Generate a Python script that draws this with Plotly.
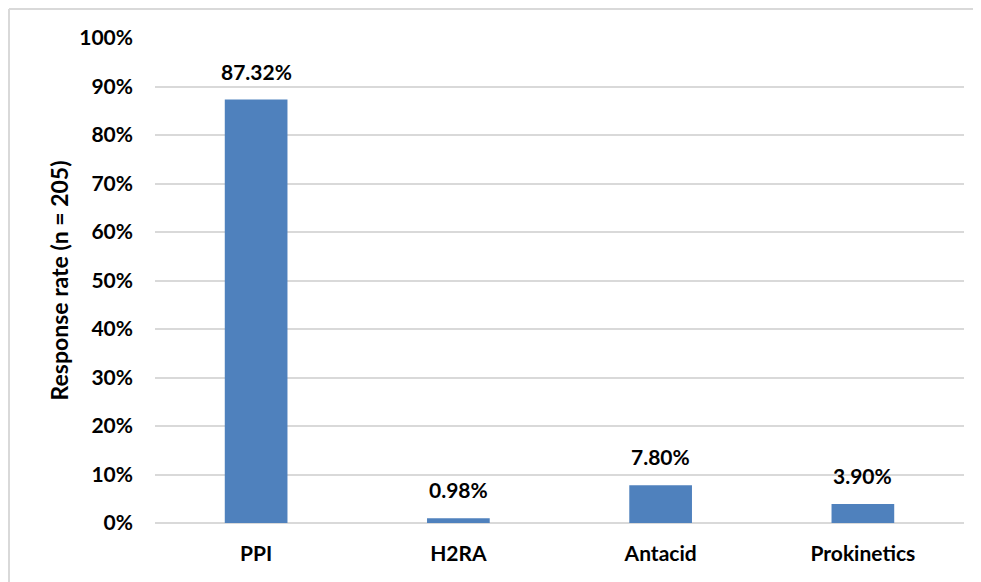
import plotly.graph_objects as go

categories = ["PPI", "H2RA", "Antacid", "Prokinetics"]
values = [87.32, 0.98, 7.80, 3.90]
labels = ["87.32%", "0.98%", "7.80%", "3.90%"]
y_ticks = [0, 10, 20, 30, 40, 50, 60, 70, 80, 90, 100]
y_title = "Response rate (n = 205)"

FONT = "Lato"
W, H = 973, 574
L, R, T, B = 147, 17, 30, 59
pw, ph = W - L - R, H - T - B

fig = go.Figure()
fig.add_trace(go.Bar(
    x=categories, y=values,
    marker=dict(color="#4F81BD", line=dict(width=0)),
    width=0.31,
    hoverinfo="skip",
))

for c, v, t in zip(categories, values, labels):
    fig.add_annotation(x=c, y=v, text=t, showarrow=False, yanchor="bottom",
                       yshift=14, font=dict(family=FONT, size=21, color="#000000", weight="bold"))

# outer frame (left and top edges)
x0 = (1 - L) / pw
y1 = 1 + (T - 1) / ph
x1 = (W - L) / pw
yb = -(B + 5) / ph
fig.add_shape(type="line", xref="paper", yref="paper", x0=x0, x1=x0, y0=yb, y1=y1,
              line=dict(color="#d9d9d9", width=2))
fig.add_shape(type="line", xref="paper", yref="paper", x0=x0, x1=x1, y0=y1, y1=y1,
              line=dict(color="#d9d9d9", width=2))

fig.update_layout(
    width=W, height=H,
    margin=dict(l=L, r=R, t=T, b=B),
    paper_bgcolor="white", plot_bgcolor="white",
    showlegend=False,
    font=dict(family=FONT, size=21, color="#000000", weight="bold"),
)
fig.update_yaxes(
    range=[0, 100], tickvals=y_ticks, ticktext=[f"{v}%" for v in y_ticks],
    showgrid=True, gridcolor="#d9d9d9", gridwidth=1.5,
    zeroline=True, zerolinecolor="#d9d9d9", zerolinewidth=1.5,
    showline=False, ticks="", ticklabelstandoff=21,
    tickfont=dict(family=FONT, size=21, color="#000000", weight="bold"),
    title=dict(text=y_title, standoff=4,
               font=dict(family=FONT, size=23, color="#000000", weight="bold")),
)
fig.update_xaxes(
    showgrid=False, showline=False, ticks="", ticklabelstandoff=16,
    tickfont=dict(family=FONT, size=21, color="#000000", weight="bold"),
)

fig.write_html("out.html")
